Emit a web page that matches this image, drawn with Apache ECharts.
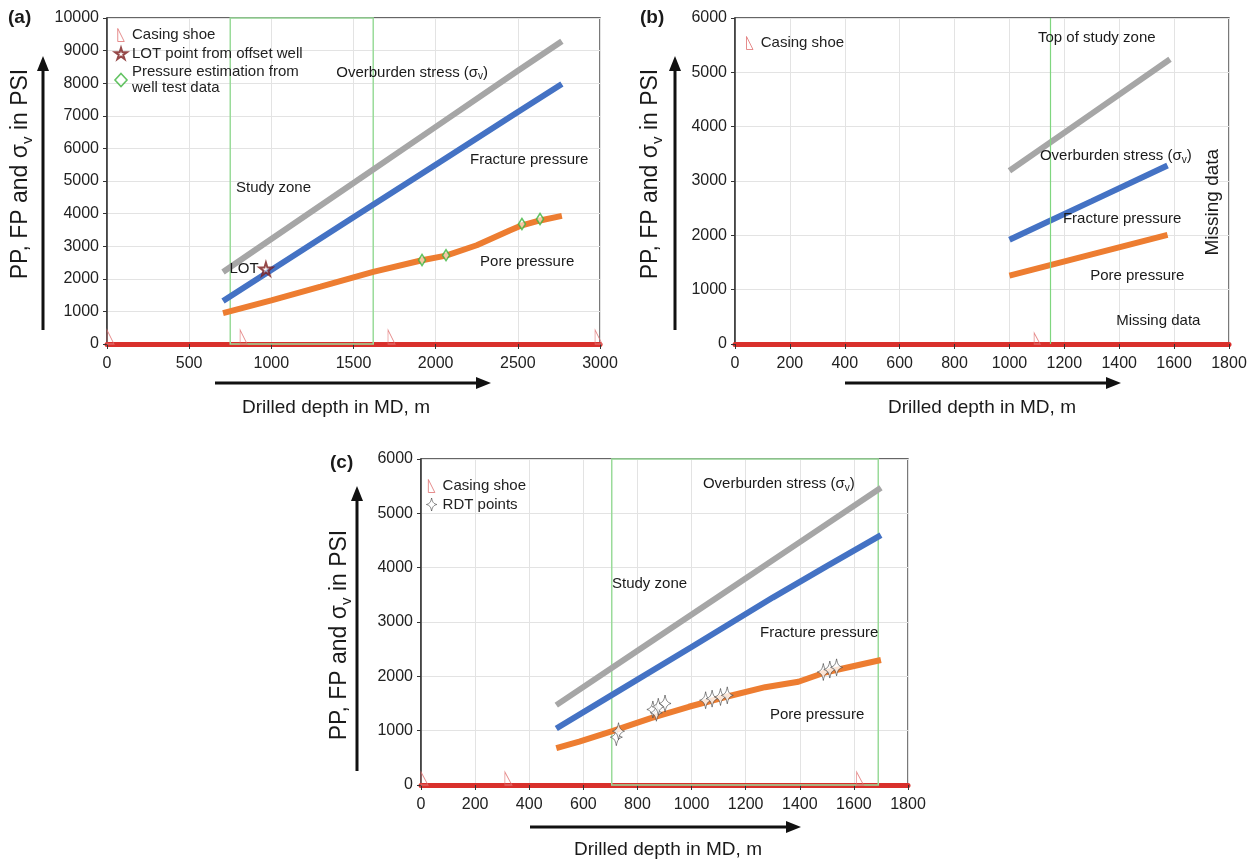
<!DOCTYPE html>
<html>
<head>
<meta charset="utf-8">
<script src="https://cdn.jsdelivr.net/npm/echarts@6/dist/echarts.min.js"></script>
<style>
  html, body { margin: 0; padding: 0; background: #fff; }
  #main { width: 1250px; height: 864px; }
</style>
</head>
<body>
<div id="main"></div>
<script>
// ---------- Panel (a) ----------
const aOverDepth = [706, 1000, 1500, 2000, 2500, 2768];
const aOverPsi   = [2210, 3220, 4940, 6660, 8380, 9290];
const aFracDepth = [706, 1000, 1500, 2000, 2500, 2768];
const aFracPsi   = [1320, 2270, 3885, 5500, 7115, 7975];
const aPoreDepth = [706, 1000, 1300, 1620, 1917, 2063, 2250, 2450, 2525, 2635, 2768];
const aPorePsi   = [950, 1340, 1760, 2210, 2570, 2710, 3030, 3480, 3640, 3790, 3930];
const aShoeDepth = [0, 810, 1710, 2970];
const aLotDepth  = [967];
const aLotPsi    = [2300];
const aTestDepth = [1917, 2063, 2525, 2635];
const aTestPsi   = [2577, 2724, 3680, 3834];
const aZone      = [750, 1620];

// ---------- Panel (b) ----------
const bOverDepth = [1000, 1300, 1585];
const bOverPsi   = [3190, 4240, 5240];
const bFracDepth = [1000, 1300, 1576];
const bFracPsi   = [1920, 2630, 3285];
const bPoreDepth = [1000, 1300, 1576];
const bPorePsi   = [1260, 1650, 2010];
const bShoeDepth = [1090];
const bZoneTop   = 1150;

// ---------- Panel (c) ----------
const cOverDepth = [500, 800, 1100, 1400, 1700];
const cOverPsi   = [1470, 2470, 3470, 4470, 5470];
const cFracDepth = [500, 700, 1000, 1300, 1500, 1700];
const cFracPsi   = [1040, 1640, 2540, 3450, 4030, 4600];
const cPoreDepth = [500, 585, 707, 850, 990, 1125, 1272, 1395, 1493, 1700];
const cPorePsi   = [680, 800, 990, 1230, 1440, 1620, 1800, 1900, 2070, 2300];
const cShoeDepth = [0, 310, 1610];
const cRdtDepth  = [722, 730, 857, 870, 877, 902, 1052, 1076, 1107, 1132, 1487, 1511, 1536];
const cRdtPsi    = [880, 990, 1390, 1330, 1440, 1500, 1560, 1590, 1620, 1650, 2080, 2125, 2165];
const cZone      = [705, 1690];

const FONT = '"Liberation Sans", Arial, sans-serif';
const GRAY = '#a6a6a6', BLUE = '#4472c4', ORANGE = '#ed7d31', RED = '#d9302c';
const GREEN = '#9adb9a', SHOE = '#e07070';
const SHOE_PATH = 'path://M0,0 L0,10 L5,10 Z';
const STAR5 = 'path://M50,0 L61,35 L98,35 L68,57 L79,91 L50,70 L21,91 L32,57 L2,35 L39,35 Z';
const STAR4 = 'path://M0,-10 C1.5,-3 3,-1.5 8,0 C3,1.5 1.5,3 0,10 C-1.5,3 -3,1.5 -8,0 C-3,-1.5 -1.5,-3 0,-10 Z';

const SHOE_STYLE = { color: 'rgba(255,255,255,0)', borderColor: SHOE, borderWidth: 1 };
const LOT_STYLE  = { color: 'rgba(255,255,255,0.6)', borderColor: '#7b1c1c', borderWidth: 2 };
const TEST_STYLE = { color: 'rgba(255,255,255,0.7)', borderColor: '#3cb43c', borderWidth: 1.6 };
const RDT_STYLE  = { color: '#fff', borderColor: '#444', borderWidth: 0.8 };

const pairs = (xs, ys) => xs.map((x, i) => [x, ys[i]]);
const onAxis = xs => xs.map(x => [x, 0]);
const plain = v => String(v);

const grids = [
  { left: 107, top: 18,  width: 493, height: 326 },
  { left: 735, top: 18,  width: 494, height: 326 },
  { left: 421, top: 459, width: 487, height: 326 }
].map(g => Object.assign(g, { show: true, borderColor: '#333', borderWidth: 1.3, backgroundColor: 'transparent', containLabel: false }));

function xAx(gi, max, step) {
  return {
    type: 'value', gridIndex: gi, min: 0, max: max, interval: step,
    axisLine: { show: true, onZero: false, lineStyle: { color: RED, width: 5 } },
    axisTick: { show: true, length: 5, lineStyle: { color: '#333' } },
    axisLabel: { fontSize: 16, color: '#222', margin: 12, fontFamily: FONT, formatter: plain },
    splitLine: { show: true, lineStyle: { color: '#e3e3e3' } }
  };
}
function yAx(gi, max) {
  return {
    type: 'value', gridIndex: gi, min: 0, max: max, interval: 1000,
    axisLine: { show: true, onZero: false, lineStyle: { color: '#333', width: 1.5 } },
    axisTick: { show: true, length: 4, lineStyle: { color: '#333' } },
    axisLabel: { fontSize: 16, color: '#222', margin: 8, fontFamily: FONT, formatter: plain },
    splitLine: { show: true, lineStyle: { color: '#e3e3e3' } }
  };
}

function curve(gi, name, data, color, extra) {
  return Object.assign({
    name: name, type: 'line', xAxisIndex: gi, yAxisIndex: gi, data: data,
    showSymbol: false, symbol: 'none', silent: true, z: 3,
    lineStyle: { width: 6, color: color }
  }, extra || {});
}
function shoes(gi, depths, size) {
  return {
    name: 'Casing shoe', type: 'scatter', xAxisIndex: gi, yAxisIndex: gi,
    data: onAxis(depths), symbol: SHOE_PATH, symbolSize: size,
    symbolOffset: ['50%', '-50%'], silent: true, z: 4,
    itemStyle: SHOE_STYLE
  };
}
function zoneArea(x0, x1, ymax) {
  return {
    silent: true,
    itemStyle: { color: 'rgba(0,0,0,0)', borderColor: GREEN, borderWidth: 1.5 },
    data: [[{ xAxis: x0, yAxis: 0 }, { xAxis: x1, yAxis: ymax }]]
  };
}

const legendText = { fontSize: 15, color: '#222', fontFamily: FONT, lineHeight: 16 };
const legendBase = { orient: 'vertical', itemWidth: 12, itemHeight: 13, itemGap: 2.5,
  textStyle: legendText, selectedMode: false, padding: 0 };
const shoeItem = { name: 'Casing shoe', icon: SHOE_PATH, itemStyle: SHOE_STYLE };

const option = {
  animation: false,
  backgroundColor: '#fff',
  grid: grids,
  xAxis: [xAx(0, 3000, 500), xAx(1, 1800, 200), xAx(2, 1800, 200)],
  yAxis: [yAx(0, 10000), yAx(1, 6000), yAx(2, 6000)],
  legend: [
    Object.assign({}, legendBase, {
      left: 114, top: 27,
      data: [
        shoeItem,
        { name: 'LOT point from offset well', icon: STAR5, itemStyle: LOT_STYLE },
        { name: 'Pressure estimation from well test data', icon: 'diamond', itemStyle: TEST_STYLE }
      ],
      formatter: n => n === 'Pressure estimation from well test data' ? 'Pressure estimation from\nwell test data' : n
    }),
    Object.assign({}, legendBase, { left: 746, top: 35, data: [shoeItem] }),
    Object.assign({}, legendBase, {
      left: 426, top: 478,
      data: [shoeItem, { name: 'RDT points', icon: STAR4, itemStyle: RDT_STYLE }]
    })
  ],
  series: [
    // (a)
    curve(0, 'Overburden stress', pairs(aOverDepth, aOverPsi), GRAY, { markArea: zoneArea(aZone[0], aZone[1], 10000) }),
    curve(0, 'Fracture pressure', pairs(aFracDepth, aFracPsi), BLUE),
    curve(0, 'Pore pressure', pairs(aPoreDepth, aPorePsi), ORANGE),
    shoes(0, aShoeDepth, [7, 14]),
    {
      name: 'LOT point from offset well', type: 'scatter', xAxisIndex: 0, yAxisIndex: 0,
      data: pairs(aLotDepth, aLotPsi), symbol: STAR5, symbolSize: 13, z: 5, silent: true,
      itemStyle: LOT_STYLE
    },
    {
      name: 'Pressure estimation from well test data', type: 'scatter', xAxisIndex: 0, yAxisIndex: 0,
      data: pairs(aTestDepth, aTestPsi), symbol: 'diamond', symbolSize: [7, 11], z: 5, silent: true,
      itemStyle: TEST_STYLE
    },
    // (b)
    curve(1, 'Overburden stress', pairs(bOverDepth, bOverPsi), GRAY, {
      markLine: {
        silent: true, symbol: 'none', label: { show: false },
        lineStyle: { color: '#7fd67f', width: 1.2, type: 'solid' },
        data: [{ xAxis: bZoneTop }]
      }
    }),
    curve(1, 'Fracture pressure', pairs(bFracDepth, bFracPsi), BLUE),
    curve(1, 'Pore pressure', pairs(bPoreDepth, bPorePsi), ORANGE),
    shoes(1, bShoeDepth, [6, 11]),
    // (c)
    curve(2, 'Overburden stress', pairs(cOverDepth, cOverPsi), GRAY, { markArea: zoneArea(cZone[0], cZone[1], 6000) }),
    curve(2, 'Fracture pressure', pairs(cFracDepth, cFracPsi), BLUE),
    curve(2, 'Pore pressure', pairs(cPoreDepth, cPorePsi), ORANGE),
    shoes(2, cShoeDepth, [7, 13]),
    {
      name: 'RDT points', type: 'scatter', xAxisIndex: 2, yAxisIndex: 2,
      data: pairs(cRdtDepth, cRdtPsi), symbol: STAR4, symbolSize: [12, 17], z: 5, silent: true,
      itemStyle: RDT_STYLE
    }
  ]
};

const chart = echarts.init(document.getElementById('main'), null, { renderer: 'canvas' });
chart.setOption(option);

// ---------- annotations, titles and arrows ----------
const notes = [
  { g: 0, at: [1395, 8330], text: 'Overburden stress (σ{s|v})' },
  { g: 0, at: [2209, 5640], text: 'Fracture pressure' },
  { g: 0, at: [785, 4785],  text: 'Study zone' },
  { g: 0, at: [2270, 2515], text: 'Pore pressure' },
  { g: 0, at: [745, 2300],  text: 'LOT' },
  { g: 1, at: [1104, 5630], text: 'Top of study zone' },
  { g: 1, at: [1111, 3460], text: 'Overburden stress (σ{s|v})' },
  { g: 1, at: [1195, 2300], text: 'Fracture pressure' },
  { g: 1, at: [1294, 1250], text: 'Pore pressure' },
  { g: 1, at: [1389, 420],  text: 'Missing data' },
  { g: 1, at: [1742, 2610], text: 'Missing data', rot: true, size: 19 },
  { g: 2, at: [1042, 5540], text: 'Overburden stress (σ{s|v})' },
  { g: 2, at: [706, 3700],  text: 'Study zone' },
  { g: 2, at: [1253, 2800], text: 'Fracture pressure' },
  { g: 2, at: [1290, 1290], text: 'Pore pressure' }
];

function txt(x, y, text, size, opts) {
  opts = opts || {};
  return {
    type: 'text', x: x, y: y, rotation: opts.rot ? Math.PI / 2 : 0, z: 100,
    style: {
      text: text, fill: '#1a1a1a', fontSize: size, fontFamily: FONT,
      fontWeight: opts.bold ? 'bold' : 'normal',
      align: opts.align || 'left', verticalAlign: 'middle',
      textAlign: opts.align || 'left', textVerticalAlign: 'middle',
      rich: { s: { fontSize: Math.round(size * 0.66), fontFamily: FONT, fill: '#1a1a1a',
                   padding: [Math.round(size * 0.55), 0, 0, 0] } }
    }
  };
}
function arrowUp(x, yBottom, yTip) {
  return [
    { type: 'line', z: 100, shape: { x1: x, y1: yBottom, x2: x, y2: yTip + 12 }, style: { stroke: '#111', lineWidth: 3 } },
    { type: 'polygon', z: 100, shape: { points: [[x, yTip], [x - 6, yTip + 15], [x + 6, yTip + 15]] }, style: { fill: '#111' } }
  ];
}
function arrowRight(y, xLeft, xTip) {
  return [
    { type: 'line', z: 100, shape: { x1: xLeft, y1: y, x2: xTip - 12, y2: y }, style: { stroke: '#111', lineWidth: 3 } },
    { type: 'polygon', z: 100, shape: { points: [[xTip, y], [xTip - 15, y - 6], [xTip - 15, y + 6]] }, style: { fill: '#111' } }
  ];
}

const YTITLE = 'PP, FP and σ{s|v} in PSI';
const XTITLE = 'Drilled depth in MD, m';
const elements = [];
notes.forEach(n => {
  const p = chart.convertToPixel({ gridIndex: n.g }, n.at);
  elements.push(txt(p[0], p[1], n.text, n.size || 15, n.rot ? { rot: true, align: 'center' } : {}));
});
[
  { yx: 21, yc: 174, ax: 43, ab: 330, at: 56, xc: 336, xy: 408, ay: 383, al: 215, ar: 491, lab: '(a)', lx: 8, ly: 18 },
  { yx: 651, yc: 174, ax: 675, ab: 330, at: 56, xc: 982, xy: 408, ay: 383, al: 845, ar: 1121, lab: '(b)', lx: 640, ly: 18 },
  { yx: 340, yc: 635, ax: 357, ab: 771, at: 486, xc: 668, xy: 850, ay: 827, al: 530, ar: 801, lab: '(c)', lx: 330, ly: 463 }
].forEach(t => {
  elements.push(txt(t.yx, t.yc, YTITLE, 23, { rot: true, align: 'center' }));
  elements.push(txt(t.xc, t.xy, XTITLE, 19, { align: 'center' }));
  elements.push(txt(t.lx, t.ly, t.lab, 19, { bold: true }));
  elements.push(...arrowUp(t.ax, t.ab, t.at));
  elements.push(...arrowRight(t.ay, t.al, t.ar));
});
chart.setOption({ graphic: { elements: elements } });
</script>
</body>
</html>
